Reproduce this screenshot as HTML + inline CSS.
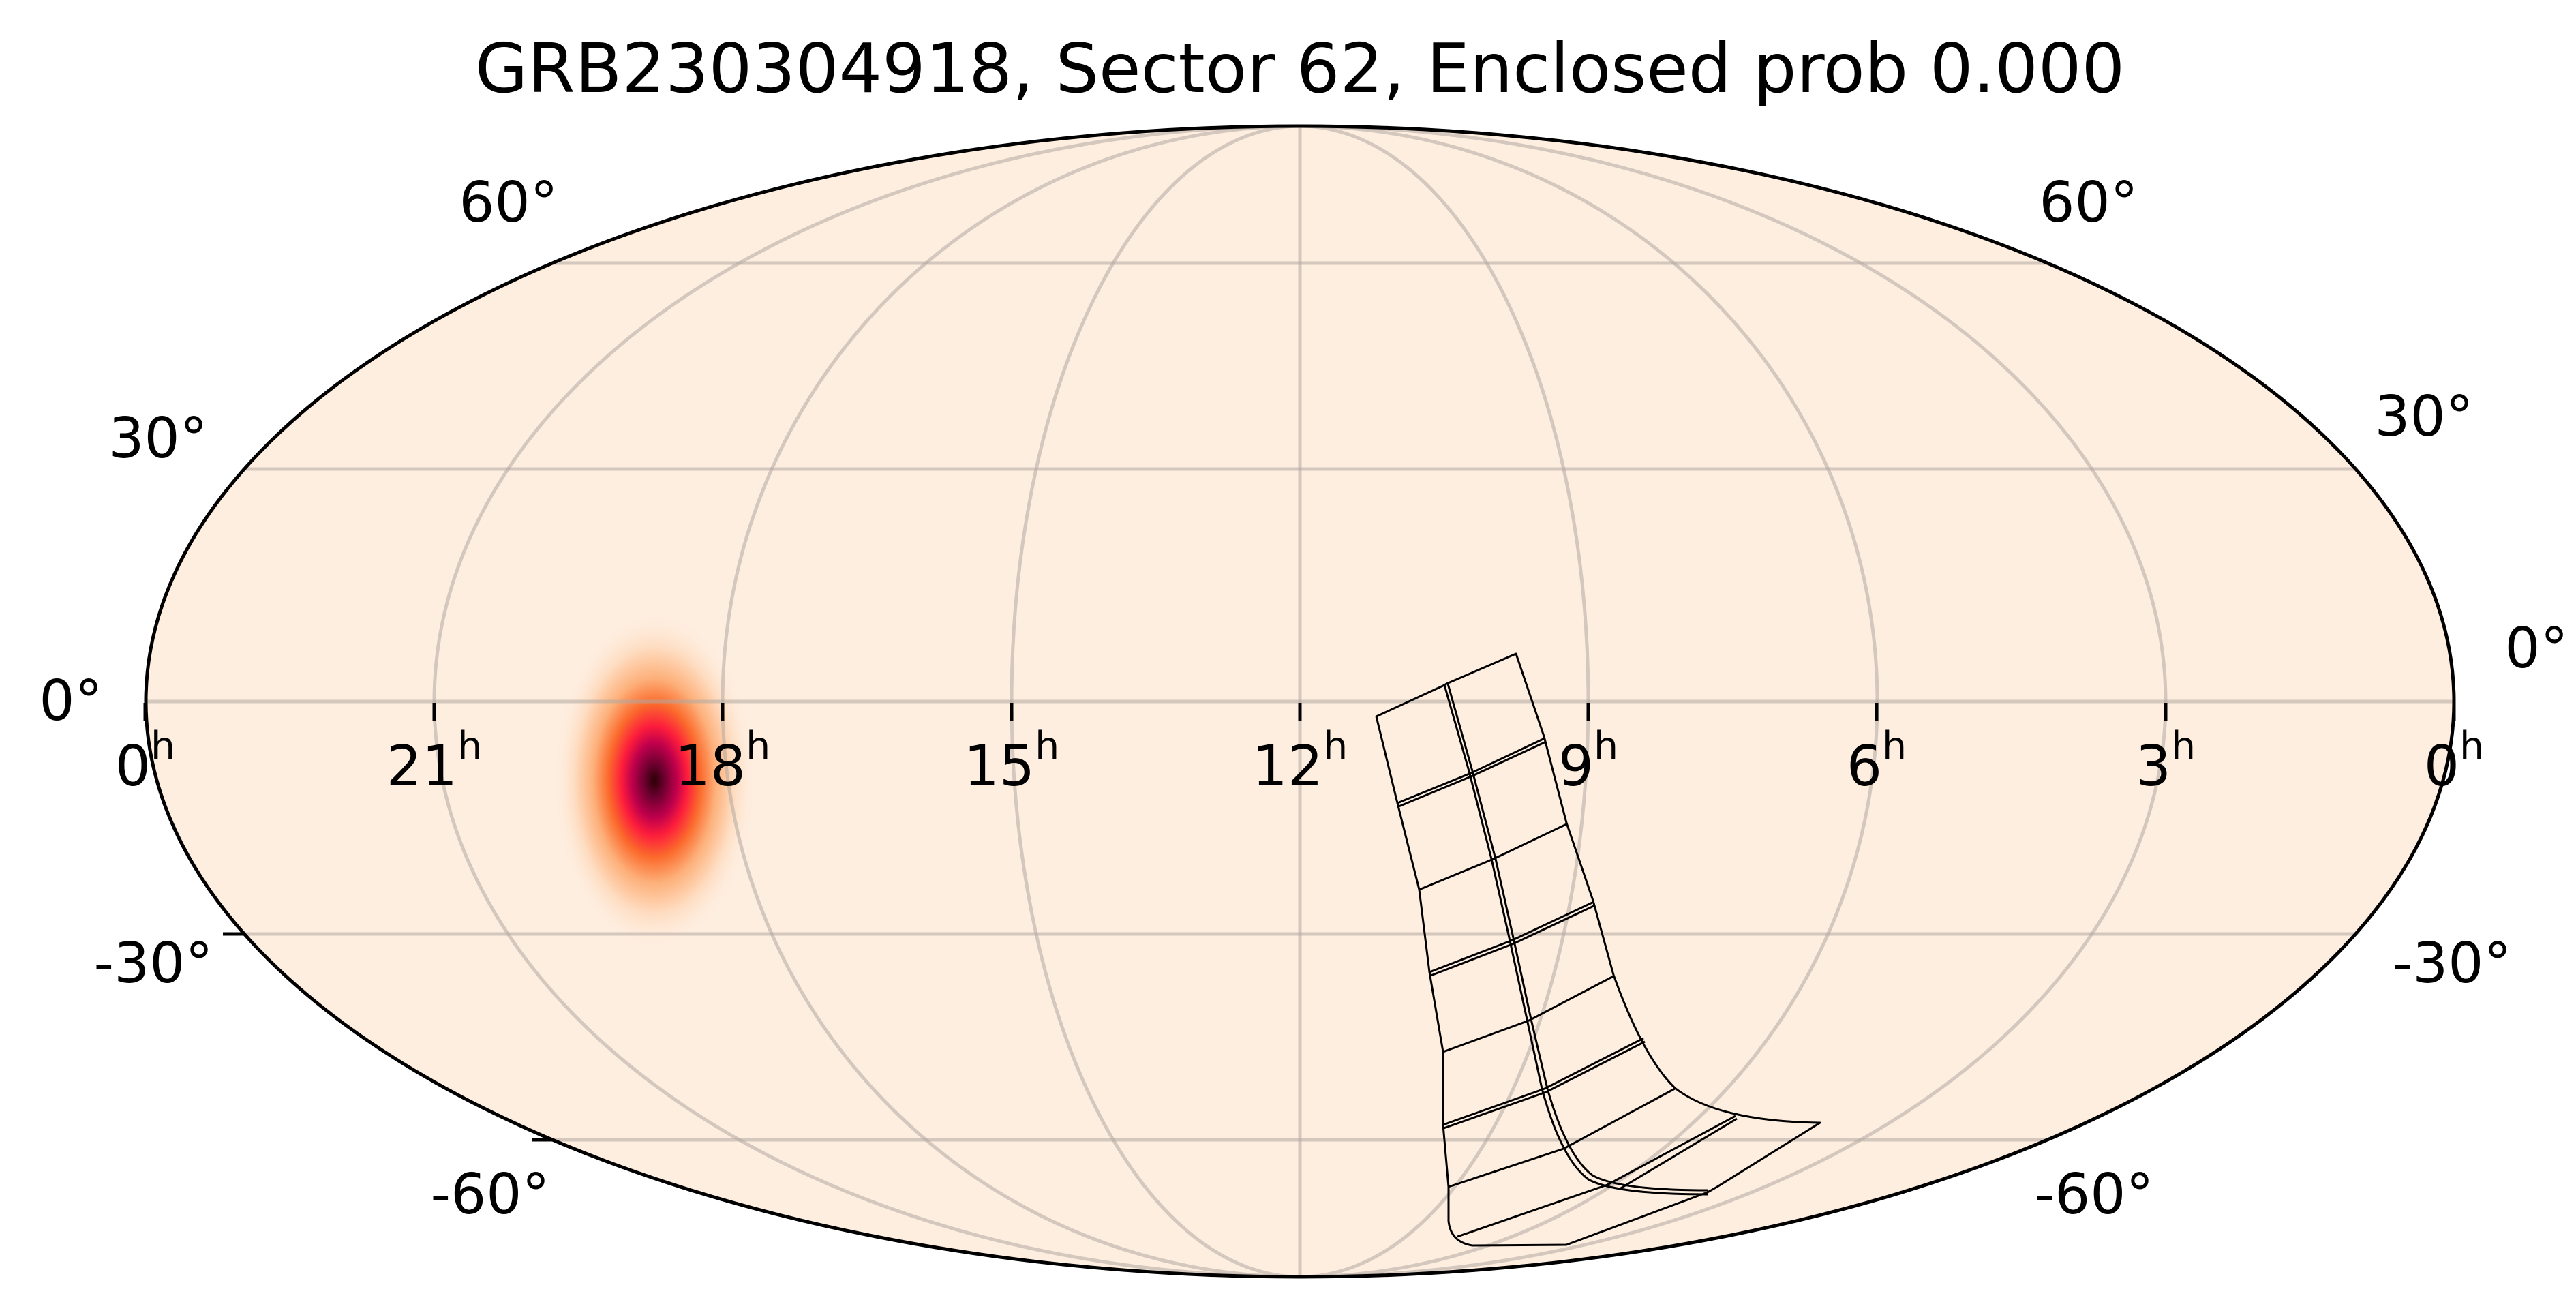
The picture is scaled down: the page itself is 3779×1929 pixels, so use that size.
<!DOCTYPE html>
<html><head><meta charset="utf-8"><style>
html,body{margin:0;padding:0;background:#fff;}
svg{display:block;}
text{font-family:"DejaVu Sans","Liberation Sans",sans-serif;fill:#000;}
</style></head><body>
<svg width="3779" height="1929" viewBox="0 0 3779 1929" xmlns="http://www.w3.org/2000/svg">
<defs>
<clipPath id="c"><ellipse cx="1907" cy="1029" rx="1693" ry="844"/></clipPath>
<radialGradient id="blob" cx="0.5" cy="0.5" r="0.5">
<stop offset="0" stop-color="#2a0005"/>
<stop offset="0.1" stop-color="#6e0030"/>
<stop offset="0.22" stop-color="#c0004c"/>
<stop offset="0.32" stop-color="#fc1c3c"/>
<stop offset="0.45" stop-color="#fb6a2c"/>
<stop offset="0.6" stop-color="#fdb07a"/>
<stop offset="0.78" stop-color="#fedcc0"/>
<stop offset="1" stop-color="#feeee0" stop-opacity="0"/>
</radialGradient>
</defs>
<text x="1907" y="135" font-size="100" text-anchor="middle">GRB230304918, Sector 62, Enclosed prob 0.000</text>
<ellipse cx="1907" cy="1029" rx="1693" ry="844" fill="#feeee0"/>
<g clip-path="url(#c)">
<ellipse cx="960" cy="1145" rx="150" ry="250" fill="url(#blob)"/>
<g fill="none" stroke="#b0a8a0" stroke-opacity="0.55" stroke-width="5">
<line x1="200" y1="1029" x2="3610" y2="1029"/>
<line x1="358" y1="688" x2="3456" y2="688"/>
<line x1="358" y1="1370" x2="3456" y2="1370"/>
<line x1="811" y1="386" x2="3003" y2="386"/>
<line x1="811" y1="1672" x2="3003" y2="1672"/>
<line x1="1907" y1="185" x2="1907" y2="1873"/>
<ellipse cx="1907" cy="1029" rx="423" ry="844"/>
<ellipse cx="1907" cy="1029" rx="847" ry="844"/>
<ellipse cx="1907" cy="1029" rx="1270" ry="844"/>
</g>
</g>
<ellipse cx="1907" cy="1029" rx="1693" ry="844" fill="none" stroke="#000" stroke-width="5"/>
<g stroke="#000" stroke-width="5">
<line x1="637" y1="1031" x2="637" y2="1058"/>
<line x1="1060" y1="1031" x2="1060" y2="1058"/>
<line x1="1484" y1="1031" x2="1484" y2="1058"/>
<line x1="1907" y1="1031" x2="1907" y2="1058"/>
<line x1="2330" y1="1031" x2="2330" y2="1058"/>
<line x1="2753" y1="1031" x2="2753" y2="1058"/>
<line x1="3177" y1="1031" x2="3177" y2="1058"/>
<line x1="213" y1="1031" x2="213" y2="1058"/>
<line x1="3600" y1="1031" x2="3600" y2="1058"/>
<line x1="327" y1="1370" x2="358" y2="1370"/>
<line x1="780" y1="1672" x2="811" y2="1672"/>
</g>
<g font-size="82" text-anchor="middle">
<text x="213" y="1152">0<tspan font-size="57" dy="-38">h</tspan></text>
<text x="637" y="1152">21<tspan font-size="57" dy="-38">h</tspan></text>
<text x="1060" y="1152">18<tspan font-size="57" dy="-38">h</tspan></text>
<text x="1484" y="1152">15<tspan font-size="57" dy="-38">h</tspan></text>
<text x="1907" y="1152">12<tspan font-size="57" dy="-38">h</tspan></text>
<text x="2330" y="1152">9<tspan font-size="57" dy="-38">h</tspan></text>
<text x="2753" y="1152">6<tspan font-size="57" dy="-38">h</tspan></text>
<text x="3177" y="1152">3<tspan font-size="57" dy="-38">h</tspan></text>
<text x="3600" y="1152">0<tspan font-size="57" dy="-38">h</tspan></text>
<text x="746" y="325">60°</text>
<text x="3064" y="325">60°</text>
<text x="232" y="671">30°</text>
<text x="3556" y="639">30°</text>
<text x="104" y="1056">0°</text>
<text x="3721" y="979">0°</text>
<text x="225" y="1441">-30°</text>
<text x="3597" y="1441">-30°</text>
<text x="719" y="1780">-60°</text>
<text x="3072" y="1780">-60°</text>
</g>
<g fill="none" stroke="#000" stroke-width="3" stroke-linejoin="round">
<path d="M2019,1051 L2119,1005 L2122,1003 L2224,959 L2265,1080 L2298,1207 L2337,1321 L2367,1430 Q2410,1550 2457,1596 Q2520,1645 2670,1647 L2519,1741 L2505,1749"/>
<path d="M2019,1051 L2050,1178 L2082,1305 L2097,1426 L2117,1543 L2117,1650 L2125,1741 L2125,1791 Q2128,1822 2160,1827 L2298,1826 L2505,1749"/>
<path d="M2119,1005 L2155,1131 L2188,1260 L2215,1380 L2240,1495 L2262,1597 Q2290,1700 2330,1730 Q2370,1752 2505,1752"/>
<path d="M2124,1003 L2160,1131 L2194,1260 L2221,1380 L2246,1495 L2270,1597 Q2298,1695 2336,1724 Q2375,1746 2505,1746"/>
<polyline points="2050,1178 2158,1134 2266,1083"/>
<polyline points="2052,1183 2158,1139 2268,1088"/>
<polyline points="2082,1305 2191,1260 2298,1209"/>
<polyline points="2097,1426 2219,1379 2338,1323"/>
<polyline points="2099,1431 2221,1384 2340,1328"/>
<polyline points="2117,1543 2243,1497 2367,1432"/>
<polyline points="2117,1650 2266,1597 2411,1523"/>
<polyline points="2118,1655 2268,1602 2413,1528"/>
<polyline points="2125,1741 2294,1685 2457,1597"/>
<polyline points="2138,1814 2358,1738 2546,1637"/>
<polyline points="2376,1744 2548,1641"/>
</g>
</svg>
</body></html>
